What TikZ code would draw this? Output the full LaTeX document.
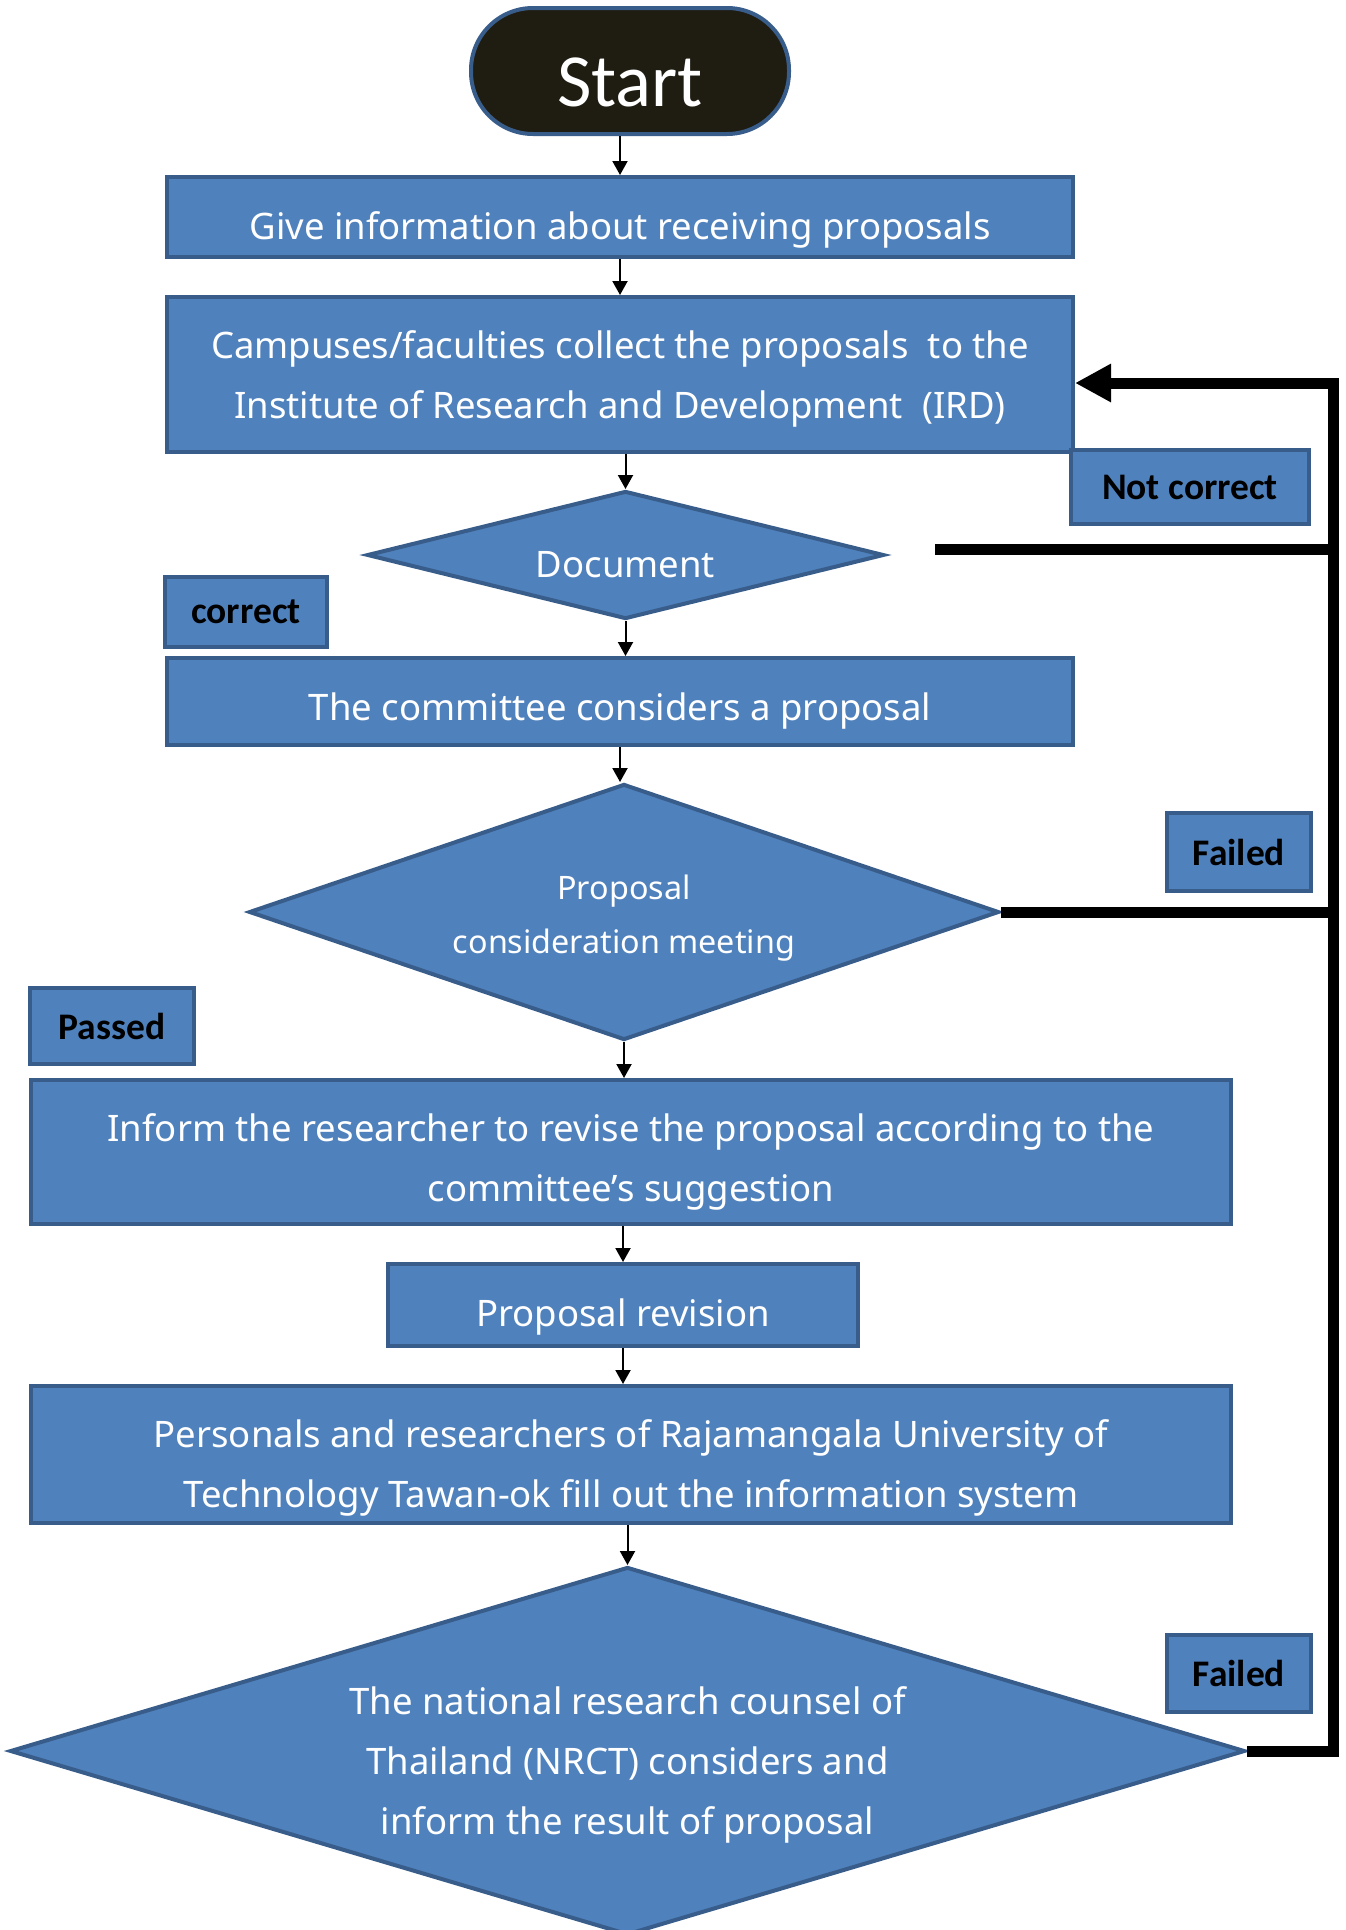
\documentclass[tikz,border=0pt]{standalone}
\usepackage{fontspec}
\setmainfont{Noto Sans}
\newfontfamily\tagfont{Carlito}
\usetikzlibrary{shapes.geometric,arrows.meta}
\definecolor{boxfill}{HTML}{4F81BD}
\definecolor{boxline}{HTML}{385D8A}
\definecolor{startfill}{HTML}{1F1C12}
% centred lines of text, drawn lower than the box centre while keeping its size
\newcommand\lowtext[2]{\raisebox{-#1}[\height][\depth]{\begin{tabular}{@{}c@{}}#2\end{tabular}}}
\tikzset{
  procbox/.style={draw=boxline, fill=boxfill, line width=4pt, text=white,
    font=\fontsize{36.5}{60}\selectfont, inner sep=0pt},
  decision/.style={diamond, draw=boxline, fill=boxfill, line width=4pt, text=white,
    font=\fontsize{36.5}{60}\selectfont, inner sep=0pt},
  tagbox/.style={draw=boxline, fill=boxfill, line width=4pt, text=black,
    font=\tagfont\bfseries\fontsize{37.5}{40}\selectfont, inner sep=0pt},
  flow/.style={-{Triangle[length=14pt,width=15pt]}, line width=2pt},
  loopline/.style={line width=11pt, line join=miter},
  backflow/.style={loopline, -{Triangle[length=36pt,width=36pt]}}
}
\begin{document}
\begin{tikzpicture}[x=1pt,y=-1pt]
  \useasboundingbox (0,0) rectangle (1345,1930);
  \fill[white] (0,0) rectangle (1345,1930);

  % terminal
  \node[draw=boxline, fill=startfill, line width=4pt, rounded corners=62pt,
        minimum width=318pt, minimum height=126pt, text=white, inner sep=0pt,
        font=\tagfont\fontsize{75}{80}\selectfont] (start) at (630,71) {\lowtext{19pt}{Start}};

  % process boxes and decisions
  \node[procbox, minimum width=906pt, minimum height=80pt] (b1) at (620,217)
    {\lowtext{10pt}{Give information about receiving proposals}};
  \node[procbox, minimum width=906pt, minimum height=155pt] (b2) at (620,374.5)
    {\lowtext{2pt}{Campuses/faculties collect the proposals\ \ to the\\Institute of Research and Development\ \ (IRD)}};
  \node[decision, aspect=4.04, minimum width=517pt, minimum height=128pt] (doc) at (625.5,555)
    {\lowtext{10pt}{Document}};
  \node[procbox, minimum width=906pt, minimum height=87pt] (b3) at (620,701.5)
    {\lowtext{7pt}{The committee considers a proposal}};
  \node[decision, aspect=2.93, minimum width=750pt, minimum height=256pt,
        font=\fontsize{32.3}{54}\selectfont] (meet) at (624,912)
    {\lowtext{4pt}{Proposal\\consideration meeting}};
  \node[procbox, minimum width=1200pt, minimum height=144pt] (b4) at (631,1152)
    {\lowtext{7pt}{Inform the researcher to revise the proposal according to the\\committee’s suggestion}};
  \node[procbox, minimum width=470pt, minimum height=82pt] (b5) at (623,1305)
    {\lowtext{9pt}{Proposal revision}};
  \node[procbox, minimum width=1200pt, minimum height=137pt] (b6) at (631,1454.5)
    {\lowtext{11pt}{Personals and researchers of Rajamangala University of\\Technology Tawan-ok fill out the information system}};
  \node[decision, aspect=3.356, minimum width=1235pt, minimum height=368pt] (nrct) at (627.5,1751)
    {\lowtext{11pt}{The national research counsel of\\Thailand (NRCT) considers and\\inform the result of proposal}};

  % branch tags
  \node[tagbox, minimum width=238pt, minimum height=74pt] (nc) at (1190,487) {Not correct\hspace{8pt}};
  \node[tagbox, minimum width=162pt, minimum height=70pt] (ok) at (246,612) {correct};
  \node[tagbox, minimum width=144pt, minimum height=78pt] (f1) at (1239,852) {Failed};
  \node[tagbox, minimum width=164pt, minimum height=76pt] (pass) at (112,1026) {Passed};
  \node[tagbox, minimum width=144pt, minimum height=77pt] (f2) at (1239,1673.5) {Failed};

  % main flow
  \draw[flow] (b1.north |- start.south) -- (b1.north);
  \draw[flow] (b1.south) -- (b2.north);
  \draw[flow] (doc.north |- b2.south) -- (doc.north);
  \draw[flow] (doc.south) -- (doc.south |- b3.north);
  \draw[flow] (b3.south) -- (b3.south |- meet.north);
  \draw[flow] (meet.south) -- (meet.south |- b4.north);
  \draw[flow] (b5.north |- b4.south) -- (b5.north);
  \draw[flow] (b5.south) -- (b5.south |- b6.north);
  \draw[flow] (nrct.north |- b6.south) -- (nrct.north);

  % return path to the collection step
  \coordinate (rail) at (1333,0);
  \coordinate (docout) at (935,549);
  \coordinate (b2in) at ([yshift=-8.5pt]b2.east);
  \draw[loopline] (docout) -- (docout -| rail);
  \draw[loopline] (meet.east) -- (meet.east -| rail);
  \draw[backflow] (nrct.east) -- (nrct.east -| rail)
    -- (rail |- b2in) -- (b2in);
\end{tikzpicture}
\end{document}
